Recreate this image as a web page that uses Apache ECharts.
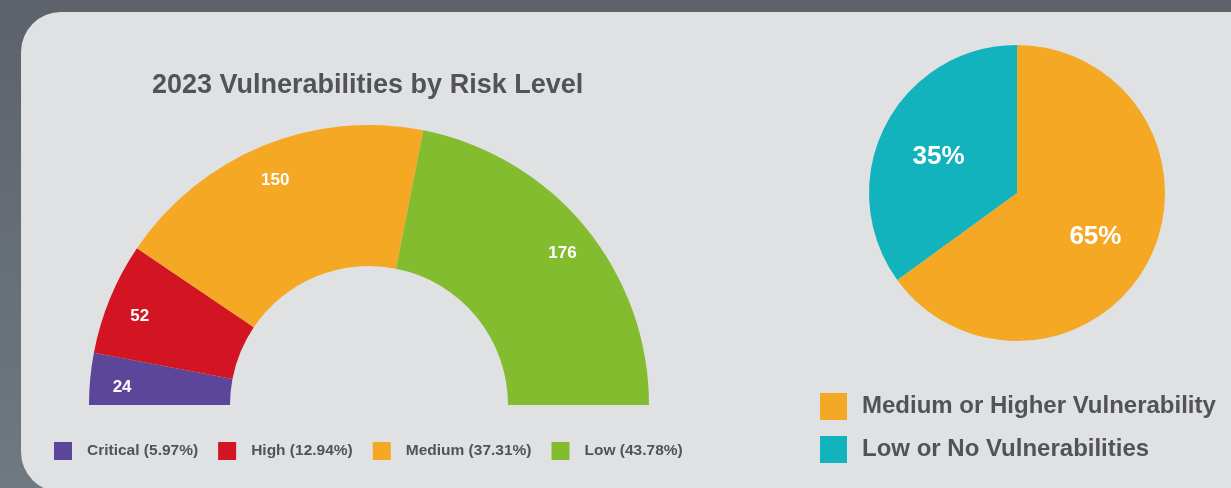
<!DOCTYPE html>
<html><head><meta charset="utf-8">
<script src="https://cdn.jsdelivr.net/npm/echarts@6/dist/echarts.min.js"></script>
<style>html,body{margin:0;padding:0;background:#63676e;}#c{width:1231px;height:488px;}</style>
</head><body><div id="c"></div>
<script>
const riskCategories = ['Critical', 'High', 'Medium', 'Low'];
const riskValues = [24, 52, 150, 176];
const riskColors = ['#5b4699', '#d31422', '#f4a823', '#84bc2f'];
const shareCategories = ['Medium or Higher Vulnerability', 'Low or No Vulnerabilities'];
const shareValues = [65, 35];
const shareColors = ['#f4a823', '#12b3bc'];
const titleText = '2023 Vulnerabilities by Risk Level';

const total = riskValues.reduce((a, b) => a + b, 0);
const FONT = '"Liberation Sans", Arial, sans-serif';
const textGray = '#525359';

const riskData = riskCategories.map((n, i) => ({ name: n, value: riskValues[i], itemStyle: { color: riskColors[i] } }));
const filler = { name: '__filler', value: total, itemStyle: { color: 'rgba(0,0,0,0)' }, label: { show: false }, emphasis: { disabled: true }, tooltip: { show: false } };

const chart = echarts.init(document.getElementById('c'), null, { renderer: 'canvas' });
chart.setOption({
  animation: false,
  backgroundColor: new echarts.graphic.LinearGradient(0, 0, 0, 1, [
    { offset: 0, color: '#5e626a' }, { offset: 1, color: '#6e7981' }
  ]),
  graphic: [{
    type: 'rect', z: -10, silent: true,
    shape: { x: 21, y: 12, width: 1260, height: 480, r: 40 },
    style: { fill: '#e0e1e3' }
  }],
  title: {
    text: titleText, left: 147, top: 67,
    textStyle: { fontFamily: FONT, fontSize: 27, fontWeight: 'bold', color: textGray }
  },
  legend: [{
    data: riskCategories, left: 54, top: 442, padding: 0, itemWidth: 18, itemHeight: 18, itemGap: 20,
    icon: 'rect',
    formatter: n => n + ' (' + (riskValues[riskCategories.indexOf(n)] / total * 100).toFixed(2) + '%)',
    textStyle: { fontFamily: FONT, fontSize: 15.5, fontWeight: 'bold', color: textGray, padding: [0, 0, 0, 10] }
  }, {
    data: shareCategories, orient: 'vertical', left: 820, top: 393, padding: 0, itemWidth: 27, itemHeight: 27, itemGap: 16,
    icon: 'rect',
    textStyle: { fontFamily: FONT, fontSize: 24, fontWeight: 'bold', color: textGray, padding: [0, 0, 0, 10] }
  }],
  series: [{
    type: 'pie', center: [369, 405], radius: [139, 280], startAngle: 180, clockwise: true,
    silent: true, label: { show: false }, labelLine: { show: false },
    data: riskData.concat([filler])
  }, {
    type: 'pie', center: [369, 405], radius: [212, 280], startAngle: 180, clockwise: true,
    silent: true, legendHoverLink: false,
    itemStyle: { color: 'rgba(0,0,0,0)' },
    label: { show: true, position: 'inside', color: '#fff', fontFamily: FONT, fontSize: 17, fontWeight: 'bold', formatter: '{c}', offset: [1, 6] },
    labelLine: { show: false },
    data: riskCategories.map((n, i) => ({ name: 'lbl_' + n, value: riskValues[i] })).concat([filler])
  }, {
    type: 'pie', center: [1017, 193], radius: [0, 148], startAngle: 90, clockwise: true,
    silent: true, label: { show: false }, labelLine: { show: false },
    data: shareCategories.map((n, i) => ({ name: n, value: shareValues[i], itemStyle: { color: shareColors[i] } }))
  }, {
    type: 'pie', center: [1017, 193], radius: [22, 148], startAngle: 90, clockwise: true,
    silent: true, legendHoverLink: false,
    itemStyle: { color: 'rgba(0,0,0,0)' },
    label: { show: true, position: 'inside', color: '#fff', fontFamily: FONT, fontSize: 26, fontWeight: 'bold', formatter: '{c}%', offset: [0, 4] },
    labelLine: { show: false },
    data: shareCategories.map((n, i) => ({ name: 'lbl_' + n, value: shareValues[i] }))
  }]
});
</script></body></html>
